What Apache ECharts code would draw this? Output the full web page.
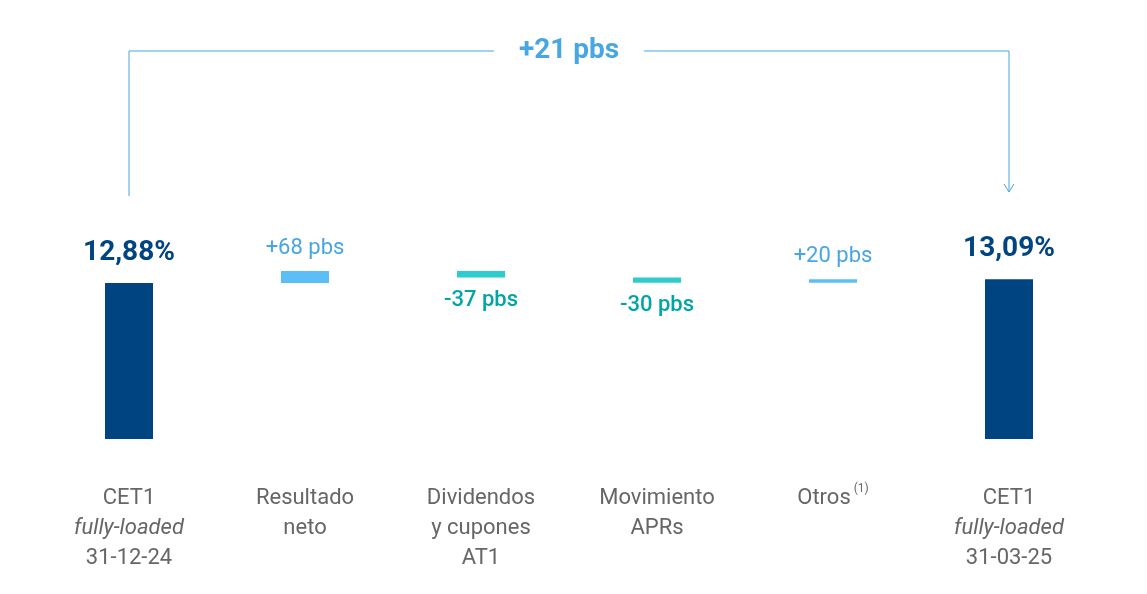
<!DOCTYPE html>
<html style="height: 100%; margin: 0; padding: 0;">
<head>
    <meta charset="utf-8">
    <title>CET1 fully-loaded</title>
    <script src="https://cdn.jsdelivr.net/npm/echarts@6.0.0/dist/echarts.min.js"></script>
    <style>
        body, html { height: 100%; margin: 0; padding: 0; background: #fff; }
        #main { width: 1147px; height: 594px; }
    </style>
</head>
<body>
<div id="main"></div>
<script type="text/javascript">
    // datos
    var categorias = ['CET1|fully-loaded|31-12-24', 'Resultado|neto', 'Dividendos|y cupones|AT1',
                      'Movimiento|APRs', 'Otros', 'CET1|fully-loaded|31-03-25'];
    var cambiosPbs = [null, 68, -37, -30, 20, null];
    var inicio = 12.88;
    var fin = 13.09;
    var totalPbs = 21;

    // construir base invisible + barras
    var base = [], barras = [], nivel = inicio;
    for (var i = 0; i < categorias.length; i++) {
        if (i === 0) { base.push(0); barras.push({ value: inicio, tipo: 'total' }); continue; }
        if (i === categorias.length - 1) { base.push(0); barras.push({ value: fin, tipo: 'total' }); continue; }
        var d = cambiosPbs[i] / 100;
        var desde = d >= 0 ? nivel : nivel + d;
        base.push(desde);
        barras.push({ value: Math.abs(d), tipo: d >= 0 ? 'sube' : 'baja', pbs: cambiosPbs[i] });
        nivel += d;
    }

    var oscuro = '#004481', claro = '#5bbef7', turquesa = '#2dcccd';
    var myChart = echarts.init(document.getElementById('main'));

    var option = {
        animation: false,
        grid: { left: 41, right: 50, top: 100, bottom: 155 },
        xAxis: {
            type: 'category',
            data: categorias,
            axisLine: { show: false }, axisTick: { show: false },
            axisLabel: {
                interval: 0,
                margin: 44,
                formatter: function (v) {
                    var p = v.split('|');
                    if (p[0] === 'CET1') return 'CET1\n{it|' + p[1] + '}\n' + p[2];
                    if (p[0] === 'Otros') return 'Otros{sup| (1)}';
                    return p.join('\n');
                },
                color: '#666', fontSize: 22, lineHeight: 30, fontFamily: 'Roboto',
                rich: {
                    it: { fontStyle: 'italic', color: '#666', fontSize: 22, lineHeight: 30, fontFamily: 'Roboto' },
                    sup: { fontSize: 12, color: '#666', verticalAlign: 'top', padding: [0, 0, 10, 0], fontFamily: 'Roboto' }
                }
            }
        },
        yAxis: { type: 'value', min: 4, max: 23.3, show: false, splitLine: { show: false } },
        series: [
            { type: 'bar', stack: 'w', data: base, itemStyle: { color: 'transparent' }, barWidth: 48, silent: true },
            {
                type: 'bar', stack: 'w', barWidth: 48,
                data: barras.map(function (b) {
                    var col = b.tipo === 'total' ? oscuro : (b.tipo === 'sube' ? claro : turquesa);
                    var lab;
                    if (b.tipo === 'total') {
                        lab = { show: true, position: 'top', distance: 16, color: oscuro, fontSize: 28, fontWeight: 'bold',
                                fontFamily: 'Roboto', formatter: b.value.toFixed(2).replace('.', ',') + '%' };
                    } else {
                        lab = { show: true, position: b.tipo === 'sube' ? 'top' : 'bottom', distance: 12,
                                color: b.tipo === 'sube' ? '#48a6e2' : '#02a5a5', fontSize: 22, fontFamily: 'Roboto',
                                fontWeight: b.tipo === 'sube' ? 'normal' : 500,
                                formatter: (b.pbs > 0 ? '+' : '') + b.pbs + ' pbs' };
                    }
                    return { value: b.value, itemStyle: { color: col }, label: lab };
                })
            }
        ]
    };
    myChart.setOption(option);

    // corchete superior con la variación total
    var x0 = myChart.convertToPixel({ xAxisIndex: 0 }, 0);
    var x1 = myChart.convertToPixel({ xAxisIndex: 0 }, categorias.length - 1);
    var xm = (x0 + x1) / 2, yTop = 51, lc = '#48a6e2';
    myChart.setOption({
        graphic: [
            { type: 'polyline', shape: { points: [[x0, 196], [x0, yTop], [xm - 75, yTop]] }, style: { stroke: lc, lineWidth: 1, fill: null } },
            { type: 'polyline', shape: { points: [[xm + 75, yTop], [x1, yTop], [x1, 192]] }, style: { stroke: lc, lineWidth: 1, fill: null } },
            { type: 'polyline', shape: { points: [[x1 - 5, 184], [x1, 192], [x1 + 5, 184]] }, style: { stroke: lc, lineWidth: 1, fill: null } },
            { type: 'text', x: xm, y: yTop, style: { text: '+' + totalPbs + ' pbs', fill: lc, fontSize: 28, fontWeight: 'bold',
              fontFamily: 'Roboto', align: 'center', verticalAlign: 'middle' } }
        ]
    });
</script>
</body>
</html>
